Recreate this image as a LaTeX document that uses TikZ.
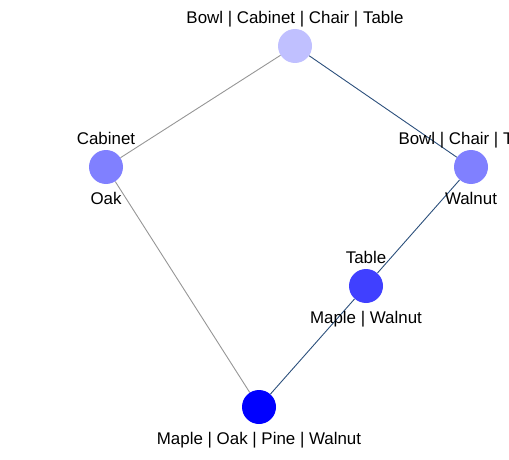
\documentclass[tikz,border=0pt]{standalone}
\usepackage{fontspec}
\setmainfont{Liberation Sans}
\usetikzlibrary{backgrounds}
\definecolor{setlight}{RGB}{192,192,255}
\definecolor{setmid}{RGB}{128,128,255}
\definecolor{setdark}{RGB}{64,64,255}
\definecolor{setfull}{RGB}{0,0,255}
\definecolor{linkblue}{RGB}{44,80,124}
\definecolor{linkgray}{RGB}{150,150,150}
\tikzset{
	vertex/.style={circle,minimum size=34pt,inner sep=0pt},
	lbl/.style={inner sep=0pt,text height=12pt,text depth=0pt,font=\fontsize{16.9}{20}\selectfont},
	up/.style={label={[lbl,label distance=5pt]above:#1}},
	down/.style={label={[lbl,label distance=8pt]below:#1}}
}
\begin{document}
\begin{tikzpicture}[x=1pt,y=1pt]
	\clip (0,0) rectangle (509,459);
	% the lattice, top to bottom
	\node[vertex,fill=setlight,up={Bowl | Cabinet | Chair | Table}] (top) at (295,413) {};
	\node[vertex,fill=setmid,up={Cabinet},down={Oak}] (cabinet) at (106,292) {};
	\node[vertex,fill=setmid,up={Bowl | Chair | Table},down={Walnut}] (walnut) at (471,292) {};
	\node[vertex,fill=setdark,up={Table},down={Maple | Walnut}] (table) at (366,173) {};
	\node[vertex,fill=setfull,down={Maple | Oak | Pine | Walnut}] (bottom) at (259,52) {};
	\begin{pgfonlayer}{background}
		\draw[linkgray,line width=0.9pt] (top) -- (cabinet);
		\draw[linkgray,line width=0.9pt] (cabinet) -- (bottom);
		\draw[linkblue,line width=0.9pt] (top) -- (walnut);
		\draw[linkblue,line width=0.9pt] (walnut) -- (table);
		\draw[linkblue,line width=0.9pt] (table) -- (bottom);
	\end{pgfonlayer}
\end{tikzpicture}
\end{document}
